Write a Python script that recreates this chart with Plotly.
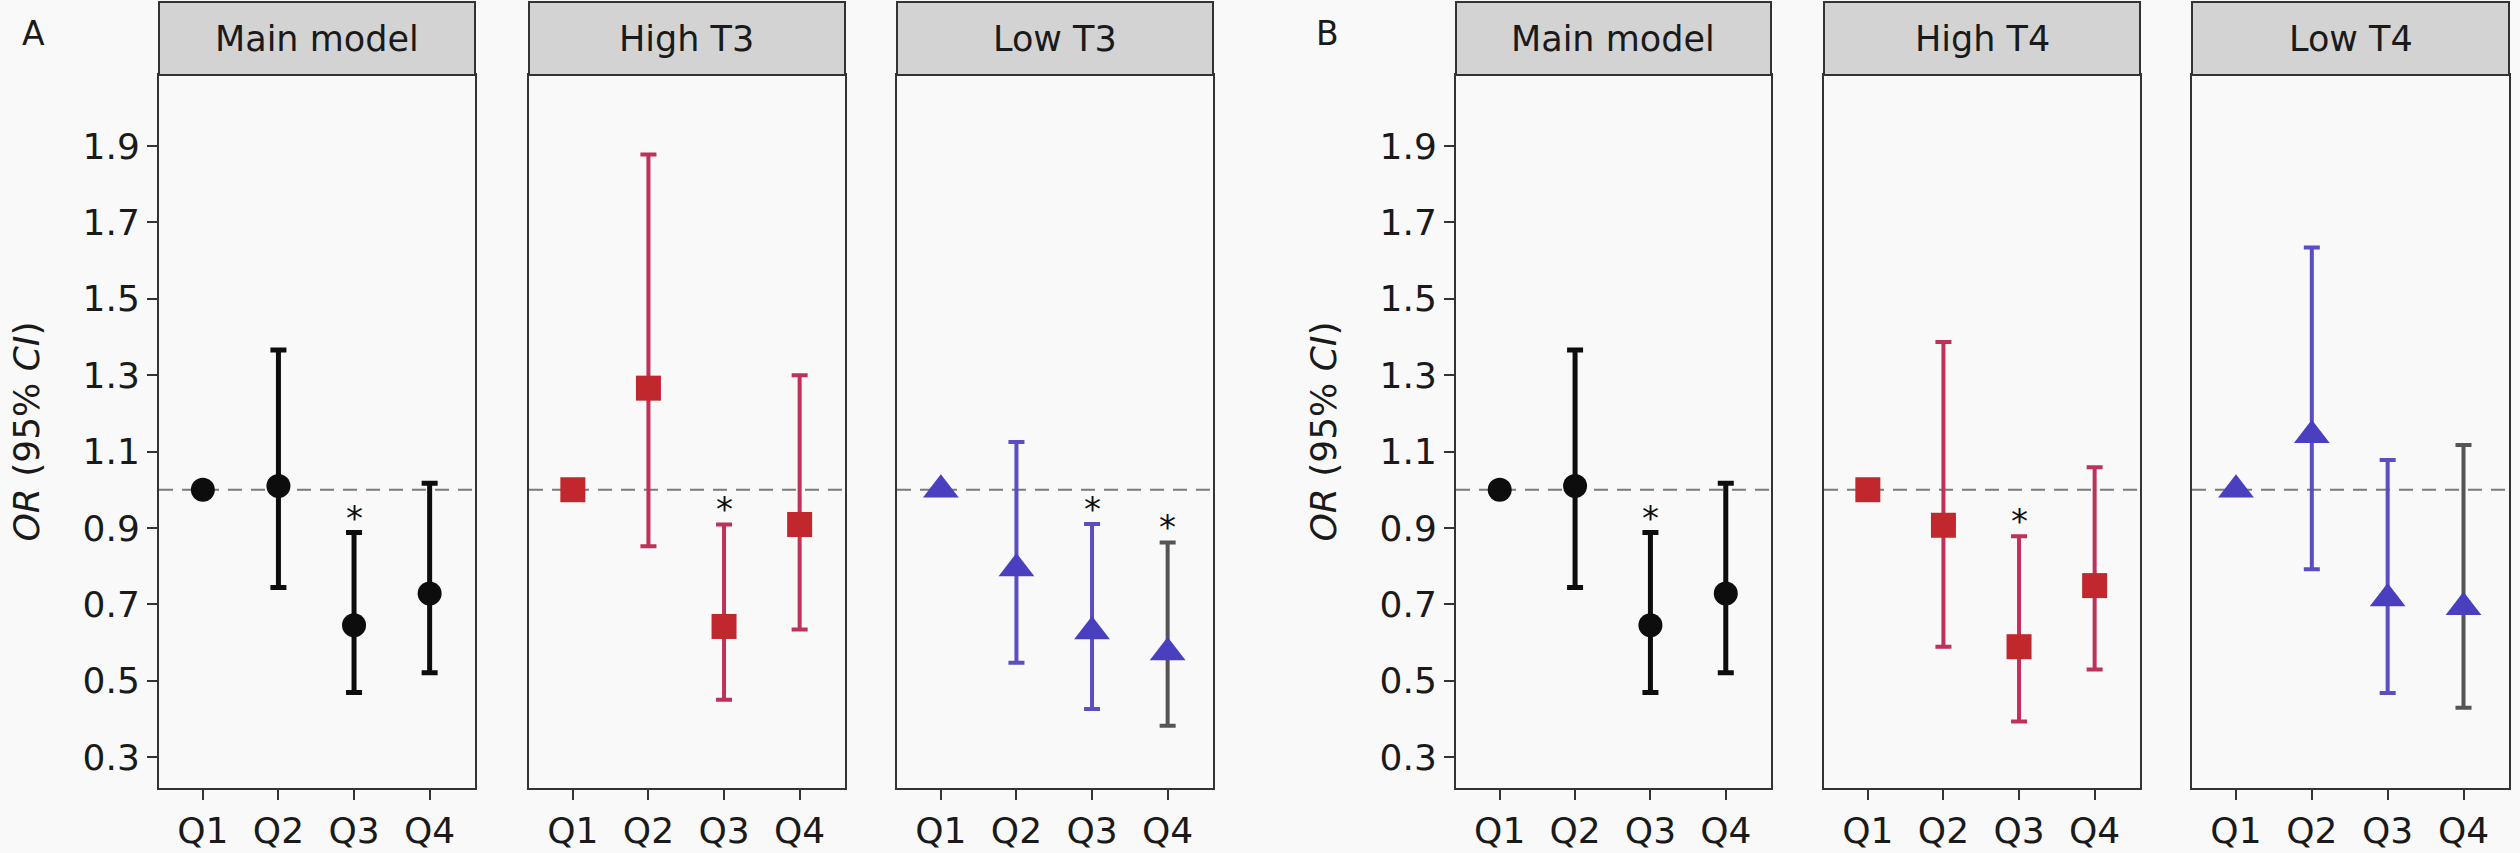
import plotly.graph_objects as go

# quartile categories on the x axis
quartiles = ["Q1", "Q2", "Q3", "Q4"]
yticks = [0.3, 0.5, 0.7, 0.9, 1.1, 1.3, 1.5, 1.7, 1.9]

# OR and 95% CI per panel
main_or = [1.00, 1.01, 0.645, 0.728]
main_lo = [1.00, 0.744, 0.469, 0.521]
main_hi = [1.00, 1.366, 0.888, 1.017]
main_star = [False, False, True, False]

hight3_or = [1.00, 1.266, 0.642, 0.909]
hight3_lo = [1.00, 0.852, 0.450, 0.634]
hight3_hi = [1.00, 1.878, 0.909, 1.300]
hight3_star = [False, False, True, False]

lowt3_or = [1.00, 0.794, 0.629, 0.574]
lowt3_lo = [1.00, 0.547, 0.426, 0.382]
lowt3_hi = [1.00, 1.125, 0.910, 0.862]
lowt3_star = [False, False, True, True]

hight4_or = [1.00, 0.907, 0.589, 0.749]
hight4_lo = [1.00, 0.589, 0.393, 0.529]
hight4_hi = [1.00, 1.387, 0.878, 1.059]
hight4_star = [False, False, True, False]

lowt4_or = [1.00, 1.143, 0.715, 0.692]
lowt4_lo = [1.00, 0.792, 0.468, 0.429]
lowt4_hi = [1.00, 1.634, 1.078, 1.117]
lowt4_star = [False, False, False, False]

W, H = 2520, 853
FONT = "DejaVu Sans"
BG = "#F9F9F9"

# panel pixel boxes
plot_top, plot_bottom, head_top = 75, 788, 2
panel_x = [(159, 475), (529, 845), (897, 1213), (1456, 1771), (1824, 2140), (2192, 2509)]

styles = {
    "main": dict(symbol="circle", size=24, color="#0d0d0d", bar="#0d0d0d", thick=5),
    "high": dict(symbol="square", size=25, color="#C0282E", bar="#BE3158", thick=4),
    "low": dict(symbol="triangle-up", size=31, color="#4A3FBF", bar="#5A4EC2", thick=4),
}

panels = [
    ("Main model", "main", main_or, main_lo, main_hi, main_star),
    ("High T3", "high", hight3_or, hight3_lo, hight3_hi, hight3_star),
    ("Low T3", "low", lowt3_or, lowt3_lo, lowt3_hi, lowt3_star),
    ("Main model", "main", main_or, main_lo, main_hi, main_star),
    ("High T4", "high", hight4_or, hight4_lo, hight4_hi, hight4_star),
    ("Low T4", "low", lowt4_or, lowt4_lo, lowt4_hi, lowt4_star),
]

fig = go.Figure()
layout = {}
shapes = []
annotations = []

for i, (title, kind, orv, lo, hi, star) in enumerate(panels):
    n = i + 1
    xa = "x" if n == 1 else f"x{n}"
    ya = "y" if n == 1 else f"y{n}"
    st = styles[kind]
    x0, x1 = panel_x[i]
    dom_x = [x0 / W, x1 / W]
    dom_y = [1 - plot_bottom / H, 1 - plot_top / H]

    for j, q in enumerate(quartiles):
        bar_col = st["bar"]
        if kind == "low" and j == 3:
            bar_col = "#555555"
        fig.add_trace(go.Scatter(
            x=[j + 1], y=[orv[j]], xaxis=xa, yaxis=ya, mode="markers",
            marker=dict(symbol=st["symbol"], size=st["size"], color=st["color"], line=dict(width=0)),
            error_y=dict(type="data", symmetric=False, array=[hi[j] - orv[j]],
                         arrayminus=[orv[j] - lo[j]], color=bar_col,
                         thickness=st["thick"], width=8),
            showlegend=False, hoverinfo="skip",
        ))
        if star[j]:
            annotations.append(dict(x=j + 1, y=hi[j], xref=xa, yref=ya, text="*",
                                    showarrow=False, xanchor="center", yanchor="middle", yshift=15,
                                    font=dict(family=FONT, size=34, color="#111")))

    first = n in (1, 4)
    layout["xaxis" if n == 1 else f"xaxis{n}"] = dict(
        domain=dom_x, range=[0.42, 4.6], tickvals=[1, 2, 3, 4], ticktext=quartiles,
        ticks="outside", ticklen=10, tickwidth=2, tickcolor="#333",
        showline=True, linecolor="#333", linewidth=2, mirror=True,
        showgrid=False, zeroline=False, anchor=ya,
        tickfont=dict(family=FONT, size=36, color="#1a1a1a"), fixedrange=True,
    )
    layout["yaxis" if n == 1 else f"yaxis{n}"] = dict(
        domain=dom_y, range=[0.219, 2.086], tickvals=yticks,
        ticktext=[f"{v:.1f}" for v in yticks] if first else None,
        showticklabels=first, ticks="outside" if first else "",
        ticklen=10, tickwidth=2, tickcolor="#333",
        showline=True, linecolor="#333", linewidth=2, mirror=True,
        showgrid=False, zeroline=False, anchor=xa,
        tickfont=dict(family=FONT, size=36, color="#1a1a1a"),
        title=dict(text="<i>OR</i> (95% <i>CI</i>)", standoff=32,
                   font=dict(family=FONT, size=36, color="#1a1a1a")) if first else None,
    )

    # reference line at OR = 1
    shapes.append(dict(type="line", xref=f"{xa} domain", yref=ya, x0=0, x1=1, y0=1, y1=1,
                       line=dict(color="#7a7a7a", width=2, dash="14px,9px"), layer="below"))
    # facet header strip
    shapes.append(dict(type="rect", xref="paper", yref="paper",
                       x0=x0 / W, x1=x1 / W, y0=1 - plot_top / H, y1=1 - head_top / H,
                       fillcolor="#D3D3D3", line=dict(color="#333", width=2)))
    annotations.append(dict(x=(x0 + x1) / 2 / W, y=1 - (plot_top + head_top) / 2 / H,
                            xref="paper", yref="paper", text=title, showarrow=False,
                            xanchor="center", yanchor="middle",
                            font=dict(family=FONT, size=35, color="#1a1a1a")))

for lab, px in (("A", 33), ("B", 1327)):
    annotations.append(dict(x=px / W, y=1 - 34 / H, xref="paper", yref="paper", text=lab,
                            showarrow=False, xanchor="center", yanchor="middle",
                            font=dict(family=FONT, size=33, color="#1a1a1a")))

fig.update_layout(
    width=W, height=H, margin=dict(l=0, r=0, t=0, b=0),
    paper_bgcolor=BG, plot_bgcolor=BG,
    shapes=shapes, annotations=annotations, **layout,
)

fig.write_html("out.html", config={"displayModeBar": False},
               post_script="document.body.style.margin='0';document.body.style.overflow='hidden';")
